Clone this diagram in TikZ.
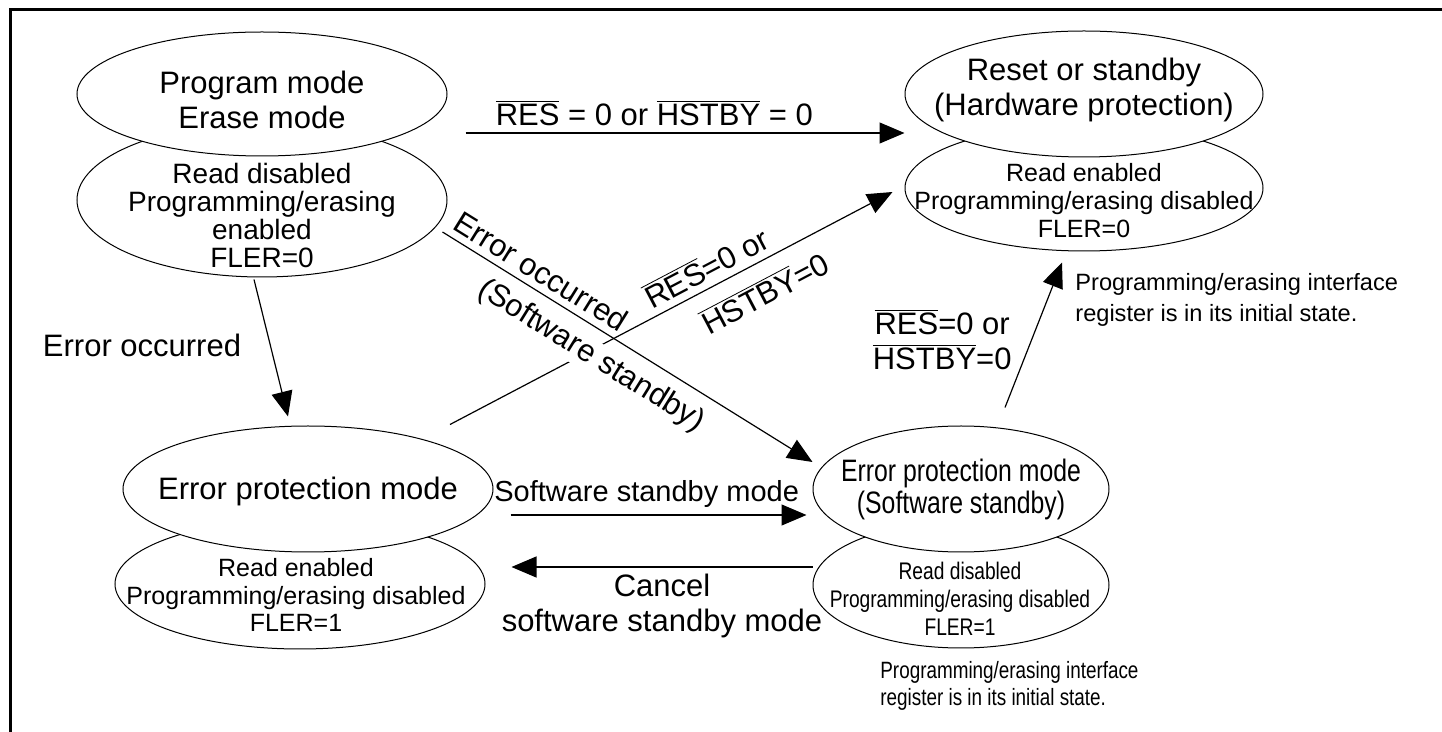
\documentclass[tikz,border=0pt]{standalone}
\usepackage{fontspec}
\setmainfont{Liberation Sans}
\newfontfamily\narrowfont[FakeStretch=0.8]{Liberation Sans}
\usepackage{tikz}
\usetikzlibrary{arrows.meta,shapes.geometric,calc}

\newcommand{\ovl}[1]{$\overline{\mbox{#1}}$}

\begin{document}
\begin{tikzpicture}[
	x=0.5pt, y=-0.5pt,
	>={Triangle[length=12.5pt,width=10.5pt]},
	mode/.style={
		ellipse, draw=black, line width=0.5pt, fill=white,
		inner sep=0pt
	},
	modetxt/.style={
		align=center, inner sep=0pt,
		font=\fontsize{15.5}{17.5}\selectfont
	},
	info/.style={
		align=center, inner sep=0pt,
		font=\fontsize{12.5}{14}\selectfont
	},
	note/.style={
		align=left, inner sep=0pt, anchor=west,
		font=\fontsize{11.8}{15.5}\selectfont
	},
	arr/.style={->, line width=0.6pt},
	lbl/.style={font=\fontsize{15.5}{17.5}\selectfont, align=center}
	]
	\useasboundingbox (0,0) rectangle (1442,732);
	\draw[line width=1.5pt] (10,732) -- (10,10) -- (1442,10);

	% program / erase mode
	\node[mode, minimum width=185pt, minimum height=77pt] (pglo) at (262,200) {};
	\node[mode, minimum width=185pt, minimum height=62pt] (pg) at (262,94) {};
	\node[modetxt] (pgtxt) at (262,100) {Program mode\\Erase mode};
	\node[info, font=\fontsize{14}{14}\selectfont] (pginfo) at (262,215) {Read disabled\\Programming/erasing\\enabled\\FLER=0};

	% reset or standby
	\node[mode, minimum width=179pt, minimum height=63pt] (rslo) at (1084,188) {};
	\node[mode, minimum width=179pt, minimum height=63pt] (rs) at (1084,94) {};
	\node[modetxt] (rstxt) at (1084,90) {Reset or standby\\(Hardware protection)};
	\node[info] (rsinfo) at (1084,201) {Read enabled\\Programming/erasing disabled\\FLER=0};
	\node[note] (rsnote) at (1075,300) {Programming/erasing interface\\register is in its initial state.};

	% error protection
	\node[mode, minimum width=185pt, minimum height=65pt] (eplo) at (300,584) {};
	\node[mode, minimum width=185pt, minimum height=63pt] (ep) at (308,489) {};
	\node[modetxt] (eptxt) at (308,491) {Error protection mode};
	\node[info, font=\fontsize{12.5}{13.75}\selectfont] (epinfo) at (296,595) {Read enabled\\Programming/erasing disabled\\FLER=1};

	% error protection, software standby
	\node[mode, minimum width=148pt, minimum height=63pt] (erlo) at (961,585) {};
	\node[mode, minimum width=148pt, minimum height=63pt] (er) at (961,489) {};
	\node[modetxt, font=\narrowfont\fontsize{15.5}{16}\selectfont] (ertxt) at (961,489) {Error protection mode\\(Software standby)};
	\node[info, font=\narrowfont\fontsize{12}{14}\selectfont] (erinfo) at (960,599) {Read disabled\\Programming/erasing disabled\\FLER=1};
	\node[note, font=\narrowfont\fontsize{11.8}{13.5}\selectfont] (ernote) at (880,686) {Programming/erasing interface\\register is in its initial state.};

	% transitions
	\draw[arr] ([xshift=9pt,yshift=-19.5pt]pg.east) -- node[lbl, above, pos=0.43] {\ovl{RES} = 0 or \ovl{HSTBY} = 0} ([yshift=-19.5pt]rs.west);
	\draw[arr] ([xshift=-4pt,yshift=-1pt]pglo.south) -- node[lbl, left=11pt, pos=0.48] {Error occurred} ([xshift=-10pt,yshift=4.5pt]ep.north);
	\draw[arr] ([xshift=71pt,yshift=0.5pt]ep.north) -- node[lbl, sloped, above, pos=0.6] {\ovl{RES}=0 or} node[lbl, sloped, below=4.5pt, pos=0.68] {\ovl{HSTBY}=0} ([xshift=-6pt,yshift=-2pt]rslo.west);
	\draw[arr] ([xshift=-2.5pt,yshift=-16pt]pglo.east) -- node[lbl, sloped, above, pos=0.24] {Error occurred} node[lbl, sloped, below=5pt, pos=0.44, fill=white, inner sep=1pt] {(Software standby)} ([yshift=13.5pt]er.west);
	\draw[arr] ([xshift=22pt,yshift=9pt]er.north) -- node[lbl, left=6.5pt, pos=0.47] {\ovl{RES}=0 or\\\ovl{HSTBY}=0} ([xshift=-11pt,yshift=-5.5pt]rslo.south);
	\draw[arr] ([xshift=8.5pt,yshift=-13pt]ep.east) -- node[lbl, above, pos=0.46, font=\fontsize{14.5}{17}\selectfont] {Software standby mode} ([xshift=-3pt,yshift=-13pt]er.west);
	\draw[arr] ([yshift=9pt]erlo.west) -- node[lbl, below, pos=0.5] {Cancel\\software standby mode} ([xshift=13pt,yshift=8.5pt]eplo.east);
\end{tikzpicture}
\end{document}
